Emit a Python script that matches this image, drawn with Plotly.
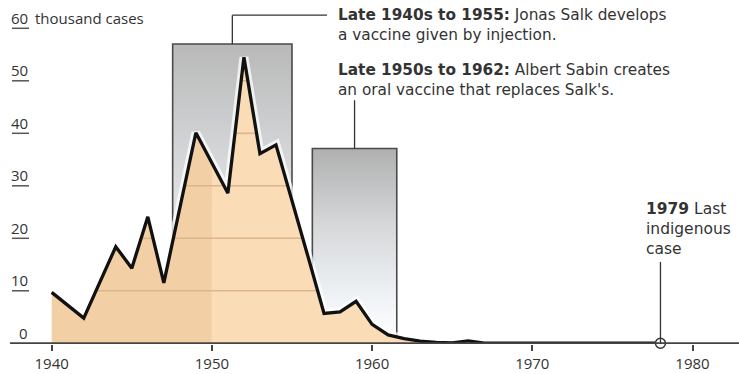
import numpy as np
import plotly.graph_objects as go

# ---------------- data ----------------
years = [1940, 1942, 1944, 1945, 1946, 1947, 1949, 1950, 1951, 1952, 1953, 1954,
         1955, 1956, 1957, 1958, 1959, 1960, 1961, 1962, 1963, 1964, 1965, 1966,
         1967, 1978]
cases = [9.7, 4.8, 18.4, 14.3, 24.1, 11.5, 40.1, 34.3, 28.6, 54.5, 36.1, 37.8,
         27.3, 16.5, 5.7, 6.0, 8.0, 3.6, 1.6, 0.9, 0.4, 0.15, 0.1, 0.45,
         0.05, 0.02]

x_ticks = [1940, 1950, 1960, 1970, 1980]
y_levels = [0, 10, 20, 30, 40, 50, 60]
y_unit = "thousand cases"

salk_span = [1947.55, 1955.0]
sabin_span = [1956.27, 1961.54]
last_case_year = 1978

salk_text = "<b>Late 1940s to 1955:</b> Jonas Salk develops<br>a vaccine given by injection."
sabin_text = "<b>Late 1950s to 1962:</b> Albert Sabin creates<br>an oral vaccine that replaces Salk's."
last_text = "<b>1979</b> Last<br>indigenous<br>case"

# ---------------- layout geometry ----------------
W, H = 739, 374
MB = 30
PLOT_H = H - MB
PX_PER_YEAR = 16.02
PX_PER_UNIT = 5.25
X0 = 1940 - 51.7 / PX_PER_YEAR
X1 = X0 + W / PX_PER_YEAR
Y0 = -0.7 / PX_PER_UNIT
Y1 = Y0 + PLOT_H / PX_PER_UNIT

FONT = "Open Sans"
NOTE_FONT = "DejaVu Sans"
TXT = "#333333"
AX = "#444444"
FILL_L = "rgb(242,207,165)"
FILL_R = "rgb(250,220,182)"
GRID_IN = "rgb(220,182,138)"


def pxx(px):
    return px / W


def pxy(py):
    return (PLOT_H - py) / PLOT_H


yrs = np.array(years, dtype=float)
val = np.array(cases, dtype=float)

fig = go.Figure()

# gray gradient boxes
for span, top, gray in [(salk_span, 57.0, "#b9b9b9"), (sabin_span, 37.1, "#b0b0b0")]:
    a, b = span
    fig.add_trace(go.Scatter(
        x=[a, a, b, b, a], y=[0, top, top, 0, 0], mode="lines",
        line=dict(width=0), fill="toself",
        fillgradient=dict(type="vertical", start=0, stop=top,
                          colorscale=[[0, "#ffffff"], [0.2, "#f2f5f8"], [0.6, "#d6d8da"], [1, gray]]),
        hoverinfo="skip", showlegend=False))
    fig.add_trace(go.Scatter(
        x=[a, a, b, b], y=[0, top, top, 0], mode="lines",
        line=dict(color="#4a4a4a", width=1.6), hoverinfo="skip", showlegend=False))

# soft white halo around the curve (shows over the gray boxes only)
fig.add_trace(go.Scatter(x=years, y=cases, mode="lines",
                         line=dict(color="rgba(255,255,255,0.75)", width=9),
                         hoverinfo="skip", showlegend=False))

# area fill, split at 1950
split = years.index(1950)
fig.add_trace(go.Scatter(x=years[:split + 1], y=cases[:split + 1], mode="lines",
                         line=dict(width=0), fill="tozeroy", fillcolor=FILL_L,
                         hoverinfo="skip", showlegend=False))
fig.add_trace(go.Scatter(x=years[split:], y=cases[split:], mode="lines",
                         line=dict(width=0), fill="tozeroy", fillcolor=FILL_R,
                         hoverinfo="skip", showlegend=False))

# gridlines visible only inside the filled area
xs = np.linspace(yrs[0], yrs[-1], 6000)
ys = np.interp(xs, yrs, val)
gx, gy = [], []
for lev in y_levels[1:]:
    inside = ys >= lev + 0.8
    for i in range(len(xs)):
        if inside[i]:
            gx.append(xs[i]); gy.append(lev)
        elif gx and gx[-1] is not None:
            gx.append(None); gy.append(None)
    gx.append(None); gy.append(None)
fig.add_trace(go.Scatter(x=gx, y=gy, mode="lines", line=dict(color=GRID_IN, width=1.6),
                         hoverinfo="skip", showlegend=False, connectgaps=False))

# main curve
fig.add_trace(go.Scatter(x=years, y=cases, mode="lines",
                         line=dict(color="#111111", width=3.3),
                         hoverinfo="skip", showlegend=False))

shapes = []
# baseline axis
shapes.append(dict(type="line", xref="paper", yref="y", x0=pxx(10), x1=1, y0=0, y1=0,
                   line=dict(color=AX, width=2)))
# left underline stubs under tick labels
for lev in y_levels[1:]:
    shapes.append(dict(type="line", xref="paper", yref="y", x0=pxx(12), x1=pxx(29),
                       y0=lev, y1=lev, line=dict(color="#555555", width=1.5)))
# connectors
salk_mid = sum(salk_span) / 2
sabin_mid = sum(sabin_span) / 2
shapes.append(dict(type="line", xref="x", yref="y", x0=salk_mid, x1=salk_mid, y0=57.0, y1=62.5,
                   line=dict(color="#333333", width=1.3)))
shapes.append(dict(type="line", xref="x", yref="y", x0=salk_mid, x1=X0 + 327 / PX_PER_YEAR,
                   y0=62.5, y1=62.5, line=dict(color="#333333", width=1.3)))
shapes.append(dict(type="line", xref="x", yref="y", x0=sabin_mid, x1=sabin_mid, y0=37.1, y1=46.3,
                   line=dict(color="#333333", width=1.3)))
shapes.append(dict(type="line", xref="x", yref="y", x0=last_case_year, x1=last_case_year,
                   y0=0, y1=15.5, line=dict(color="#333333", width=1.3)))

# last case marker
fig.add_trace(go.Scatter(x=[last_case_year], y=[0], mode="markers",
                         marker=dict(size=10, color="white", line=dict(color="#333333", width=1.5)),
                         hoverinfo="skip", showlegend=False, cliponaxis=False))

annotations = []
for lev in y_levels:
    annotations.append(dict(xref="paper", yref="y", x=pxx(29.5), y=lev, yshift=10.5,
                            xanchor="right", yanchor="middle", text=str(lev), showarrow=False,
                            font=dict(family=FONT, size=15, color=TXT)))
annotations.append(dict(xref="paper", yref="y", x=pxx(33), y=60, yshift=10.5,
                        xanchor="left", yanchor="middle", text=y_unit, showarrow=False,
                        font=dict(family=FONT, size=15, color=TXT)))
annotations.append(dict(xref="paper", yref="paper", x=pxx(336), y=pxy(25), xanchor="left",
                        yanchor="middle", align="left", text=salk_text, showarrow=False,
                        font=dict(family=NOTE_FONT, size=15.3, color=TXT)))
annotations.append(dict(xref="paper", yref="paper", x=pxx(336), y=pxy(80), xanchor="left",
                        yanchor="middle", align="left", text=sabin_text, showarrow=False,
                        font=dict(family=NOTE_FONT, size=15.3, color=TXT)))
annotations.append(dict(xref="paper", yref="paper", x=pxx(644), y=pxy(229), xanchor="left",
                        yanchor="middle", align="left", text=last_text, showarrow=False,
                        font=dict(family=NOTE_FONT, size=15.5, color=TXT)))

fig.update_layout(
    width=W, height=H, margin=dict(l=0, r=0, t=0, b=MB),
    paper_bgcolor="white", plot_bgcolor="white",
    shapes=shapes, annotations=annotations,
    xaxis=dict(range=[X0, X1], tickvals=x_ticks, ticktext=[str(t) for t in x_ticks],
               ticks="outside", ticklen=6, tickwidth=1.5, tickcolor=AX,
               showgrid=False, zeroline=False, showline=False, fixedrange=True,
               tickfont=dict(family=FONT, size=15, color=TXT)),
    yaxis=dict(range=[Y0, Y1], visible=False, showgrid=False, zeroline=False, fixedrange=True),
)

fig.write_html("out.html", config={"displayModeBar": False},
               post_script="document.body.style.margin='0px';document.body.style.overflow='hidden';")
